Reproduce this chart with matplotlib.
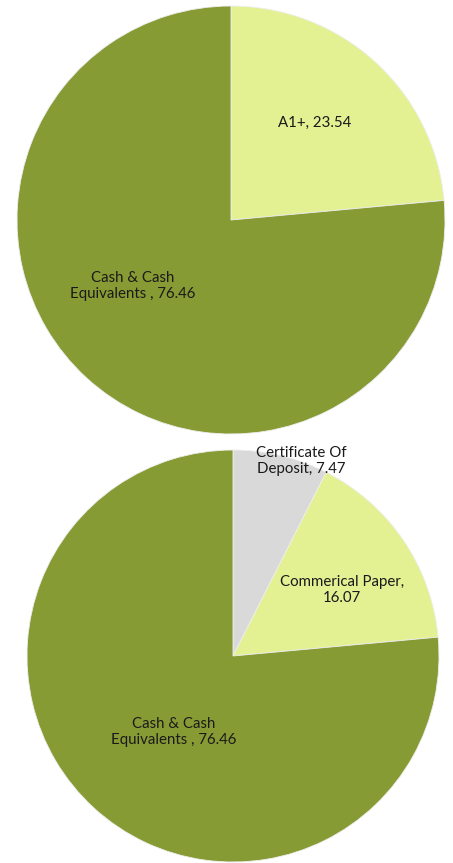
import matplotlib
matplotlib.use("Agg")
import matplotlib.pyplot as plt

plt.rcParams['font.family'] = ['Lato', 'DejaVu Sans']

# rating split
rating_labels = ["A1+, ", "Cash & Cash\nEquivalents , "]
rating_values = [23.54, 76.46]

# instrument split
asset_labels = ["Certificate Of\nDeposit, ", "Commerical Paper,\n", "Cash & Cash\nEquivalents , "]
asset_values = [7.47, 16.07, 76.46]

DARK = "#879b34"
LIGHT = "#e3f193"
GREY = "#d9d9d9"

W, H = 453, 863
fig = plt.figure(figsize=(W / 100, H / 100), dpi=100)


def pie_axes(cx, cy, r):
    # square axes so the pie sits at centre (cx, cy) with radius r, in pixels
    return fig.add_axes([(cx - r) / W, 1 - (cy + r) / H, 2 * r / W, 2 * r / H])


def draw_pie(ax, values, colors, labels, label_pos):
    ax.pie(values, colors=colors, startangle=90, counterclock=False, radius=1,
           wedgeprops=dict(edgecolor="#eeeeee", linewidth=0.6))
    ax.set_xlim(-1, 1)
    ax.set_ylim(-1, 1)
    ax.set_aspect("equal")
    ax.axis("off")
    for lab, val, (x, y) in zip(labels, values, label_pos):
        ax.text(x, y, f"{lab}{val:.2f}", ha="center", va="center",
                fontsize=10.8, color="#1a1a1a", linespacing=1.2)


ax1 = pie_axes(231, 220, 214)
draw_pie(ax1, rating_values, [LIGHT, DARK], rating_labels,
         [(0.39, 0.455), (-0.46, -0.31)])

ax2 = pie_axes(233, 656, 206)
draw_pie(ax2, asset_values, [GREY, LIGHT, DARK], asset_labels,
         [(0.33, 0.945), (0.53, 0.32), (-0.29, -0.37)])

fig.savefig("out.png", dpi=100)
